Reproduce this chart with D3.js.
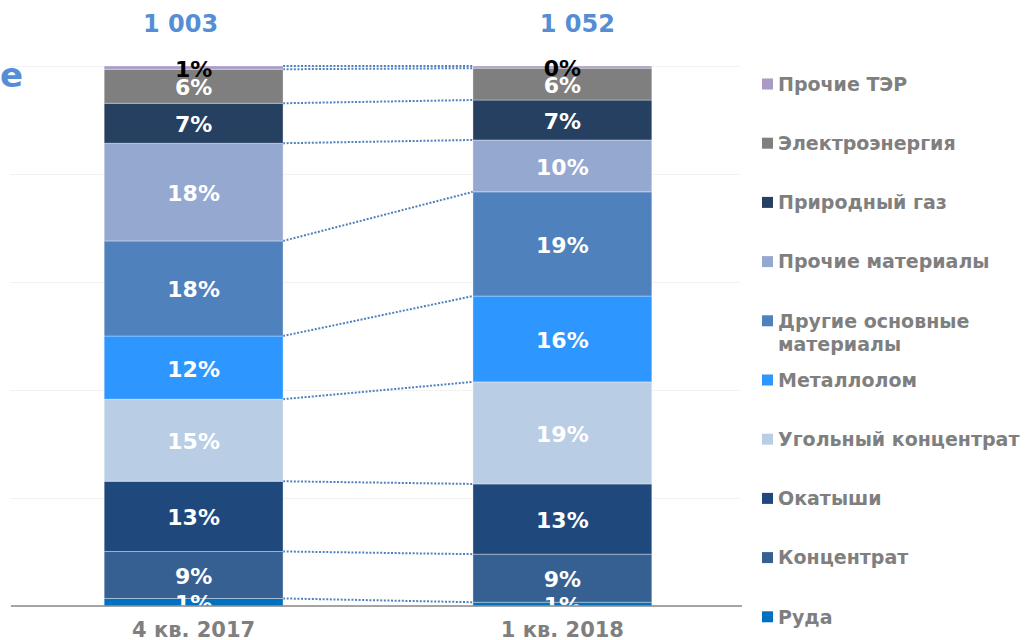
<!DOCTYPE html>
<meta charset="utf-8">
<script src="https://d3js.org/d3.v7.min.js"></script>
<style>
body { margin: 0; background: #fff; }
svg { font-family: 'DejaVu Sans', Verdana, sans-serif; font-weight: bold; }
.seg-label { font-size: 22px; }
.legend text { font-size: 19px; fill: #7f7f7f; }
.cat-label { font-size: 21px; fill: #7f7f7f; }
.total { font-size: 24px; fill: #558ed5; }
</style>
<div id="chart"></div>
<script>

// categories and series (bottom to top)
var categories = ["4 кв. 2017", "1 кв. 2018"];
var series = ["Руда", "Концентрат", "Окатыши", "Угольный концентрат", "Металлолом",
              "Другие основные материалы", "Прочие материалы", "Природный газ",
              "Электроэнергия", "Прочие ТЭР"];
var colors = ["#0070c0", "#376092", "#1f497d", "#b9cde5", "#2e96ff",
              "#4f81bd", "#95a9d0", "#254061", "#7f7f7f", "#a99bc6"];

// shares in percent, same order as series
var q4_2017 = [1.4, 8.7, 13.0, 15.2, 11.7, 17.6, 18.1, 7.4, 6.3, 0.6];
var q1_2018 = [0.7, 8.9, 13.0, 18.9, 15.9, 19.3, 9.6, 7.4, 5.9, 0.4];
var totals = [1003, 1052];
var totalShift = [-13, 15];
var yTicks = [0, 20, 40, 60, 80, 100];

var width = 1027, height = 640;

var svg = d3.select("#chart").append("svg")
    .attr("width", width)
    .attr("height", height);

var x = d3.scaleBand()
    .domain(categories)
    .range([12, 744])
    .paddingInner(0.515)
    .paddingOuter(0.25);

var y = d3.scaleLinear()
    .domain([0, 100])
    .range([606, 66]);

// faint gridlines
svg.append("g")
    .attr("transform", "translate(10,0)")
    .call(d3.axisLeft(y).tickValues(yTicks).tickSize(-730).tickFormat(""))
    .call(function(g) { g.select(".domain").remove(); })
    .selectAll("line")
    .attr("stroke", "#f2f2f2");

// build stacked table
var table = categories.map(function(c, i) {
  var row = { cat: c };
  var vals = i === 0 ? q4_2017 : q1_2018;
  series.forEach(function(s, j) { row[s] = vals[j]; });
  return row;
});
var stacked = d3.stack().keys(series)(table);

// dotted connectors between segment tops
var connectors = svg.append("g");
stacked.forEach(function(layer) {
  connectors.append("line")
    .attr("x1", x(categories[0]) + x.bandwidth())
    .attr("y1", y(layer[0][1]))
    .attr("x2", x(categories[1]))
    .attr("y2", y(layer[1][1]))
    .attr("stroke", "#4f81bd")
    .attr("stroke-width", 2)
    .attr("stroke-dasharray", "2,1.6");
});

// bars
svg.append("g")
  .selectAll("g")
  .data(stacked)
  .enter().append("g")
    .attr("fill", function(d, i) { return colors[i]; })
  .selectAll("rect")
  .data(function(d) { return d; })
  .enter().append("rect")
    .attr("x", function(d) { return x(d.data.cat); })
    .attr("y", function(d) { return y(d[1]); })
    .attr("width", x.bandwidth())
    .attr("height", function(d) { return y(d[0]) - y(d[1]); })
    .attr("stroke", "rgba(255,255,255,0.35)")
    .attr("stroke-width", 1);

// labels, clipped at the axis
svg.append("clipPath").attr("id", "plotclip")
  .append("rect").attr("x", 0).attr("y", 0).attr("width", width).attr("height", y(0));

var labels = svg.append("g").attr("clip-path", "url(#plotclip)");
stacked.forEach(function(layer, i) {
  labels.selectAll(null)
    .data(layer)
    .enter().append("text")
      .attr("class", "seg-label")
      .attr("x", function(d) { return x(d.data.cat) + x.bandwidth() / 2; })
      .attr("y", function(d) { return (y(d[0]) + y(d[1])) / 2 + 1; })
      .attr("dy", "0.36em")
      .attr("text-anchor", "middle")
      .attr("fill", i === series.length - 1 ? "#000" : "#fff")
      .text(function(d) { return Math.round(d[1] - d[0]) + "%"; });
});

// axis line
svg.append("line")
    .attr("x1", 11).attr("x2", 742)
    .attr("y1", y(0)).attr("y2", y(0))
    .attr("stroke", "#898989")
    .attr("stroke-width", 1.5);

// category labels
svg.selectAll(".cat-label")
  .data(categories)
  .enter().append("text")
    .attr("class", "cat-label")
    .attr("x", function(d) { return x(d) + x.bandwidth() / 2; })
    .attr("y", 637)
    .attr("text-anchor", "middle")
    .text(function(d) { return d; });

// totals above bars
var fmt = d3.formatLocale({ thousands: " ", grouping: [3], decimal: ",", currency: ["", ""] }).format(",d");
svg.selectAll(".total")
  .data(totals)
  .enter().append("text")
    .attr("class", "total")
    .attr("x", function(d, i) { return x(categories[i]) + x.bandwidth() / 2 + totalShift[i]; })
    .attr("y", 32)
    .attr("text-anchor", "middle")
    .text(function(d) { return fmt(d); });

// cut-off title letter
svg.append("text")
    .attr("x", 0)
    .attr("y", 87)
    .attr("fill", "#558ed5")
    .style("font-size", "34px")
    .text("e");

// legend, top to bottom
var legend = svg.append("g").attr("class", "legend");
var order = series.slice().reverse();
order.forEach(function(name, k) {
  var cy = 84 + k * 59.2;
  var idx = series.indexOf(name);
  legend.append("rect")
    .attr("x", 762).attr("y", cy - 5.5)
    .attr("width", 11).attr("height", 11)
    .attr("fill", colors[idx]);
  var t = legend.append("text")
    .attr("x", 778).attr("y", cy);
  var lines = [name];
  if (name.length > 20) {
    var cut = name.lastIndexOf(" ");
    lines = [name.slice(0, cut), name.slice(cut + 1)];
  }
  lines.forEach(function(l, li) {
    t.append("tspan")
      .attr("x", 778)
      .attr("dy", li === 0 ? "0.36em" : "23px")
      .text(l);
  });
});

</script>
